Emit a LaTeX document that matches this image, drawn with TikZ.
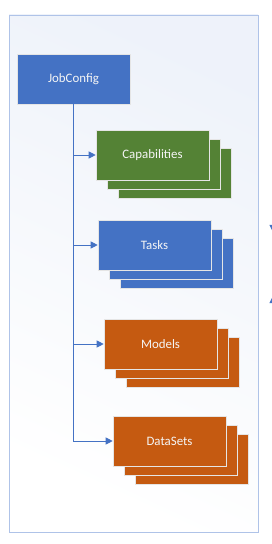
\documentclass[tikz,border=0pt]{standalone}
\usepackage{fontspec}
\setmainfont{Carlito}
\usetikzlibrary{arrows.meta}
\definecolor{cfgblue}{HTML}{4472C4}
\definecolor{capgreen}{HTML}{548235}
\definecolor{modorange}{HTML}{C55A11}
\definecolor{framecol}{HTML}{AFC3E8}

\tikzset{
  card/.style={draw=white!80!gray, line width=0.5pt, minimum width=3.39cm,
    minimum height=1.5cm, text=white!92!gray, font=\fontsize{11}{13}\selectfont},
  conn/.style={draw=cfgblue, line width=0.7pt, -{Triangle[length=6pt,width=6pt]}}
}

\begin{document}
\begin{tikzpicture}[x=0.03cm, y=-0.03cm]

  \useasboundingbox (0,0) rectangle (271,544);

  % frame
  \shade[top color=cfgblue!9!white, bottom color=white, shading angle=-25] (9,15) rectangle (258,532);
  \draw[framecol, line width=0.6pt] (9,15) rectangle (258,532);

  \node[card, fill=cfgblue] (cfg) at (73.5,79) {JobConfig};

  % stacked cards
  \foreach \name/\lbl/\col/\cx/\cy in {cap/Capabilities/capgreen/152.5/155,
      tasks/Tasks/cfgblue/154.5/245, models/Models/modorange/160.5/344,
      datasets/DataSets/modorange/169.5/441} {
    \node[card, fill=\col] at (\cx+22,\cy+18) {};
    \node[card, fill=\col] at (\cx+11,\cy+9) {};
    \node[card, fill=\col] (\name) at (\cx,\cy) {\lbl};
  }

  \draw[conn] (cfg.south) |- (datasets.west);
  \draw[conn] (cfg.south |- cap.west) -- (cap.west);
  \draw[conn] (cfg.south |- tasks.west) -- (tasks.west);
  \draw[conn] (cfg.south |- models.west) -- (models.west);

  % cut-off arrows at the right edge
  \coordinate (dtop) at (273,212);
  \coordinate (dbot) at (273,232);
  \coordinate (utop) at (273,296);
  \coordinate (ubot) at (273,316);
  \draw[conn] (dtop) -- (dbot);
  \draw[conn] (ubot) -- (utop);

\end{tikzpicture}
\end{document}
